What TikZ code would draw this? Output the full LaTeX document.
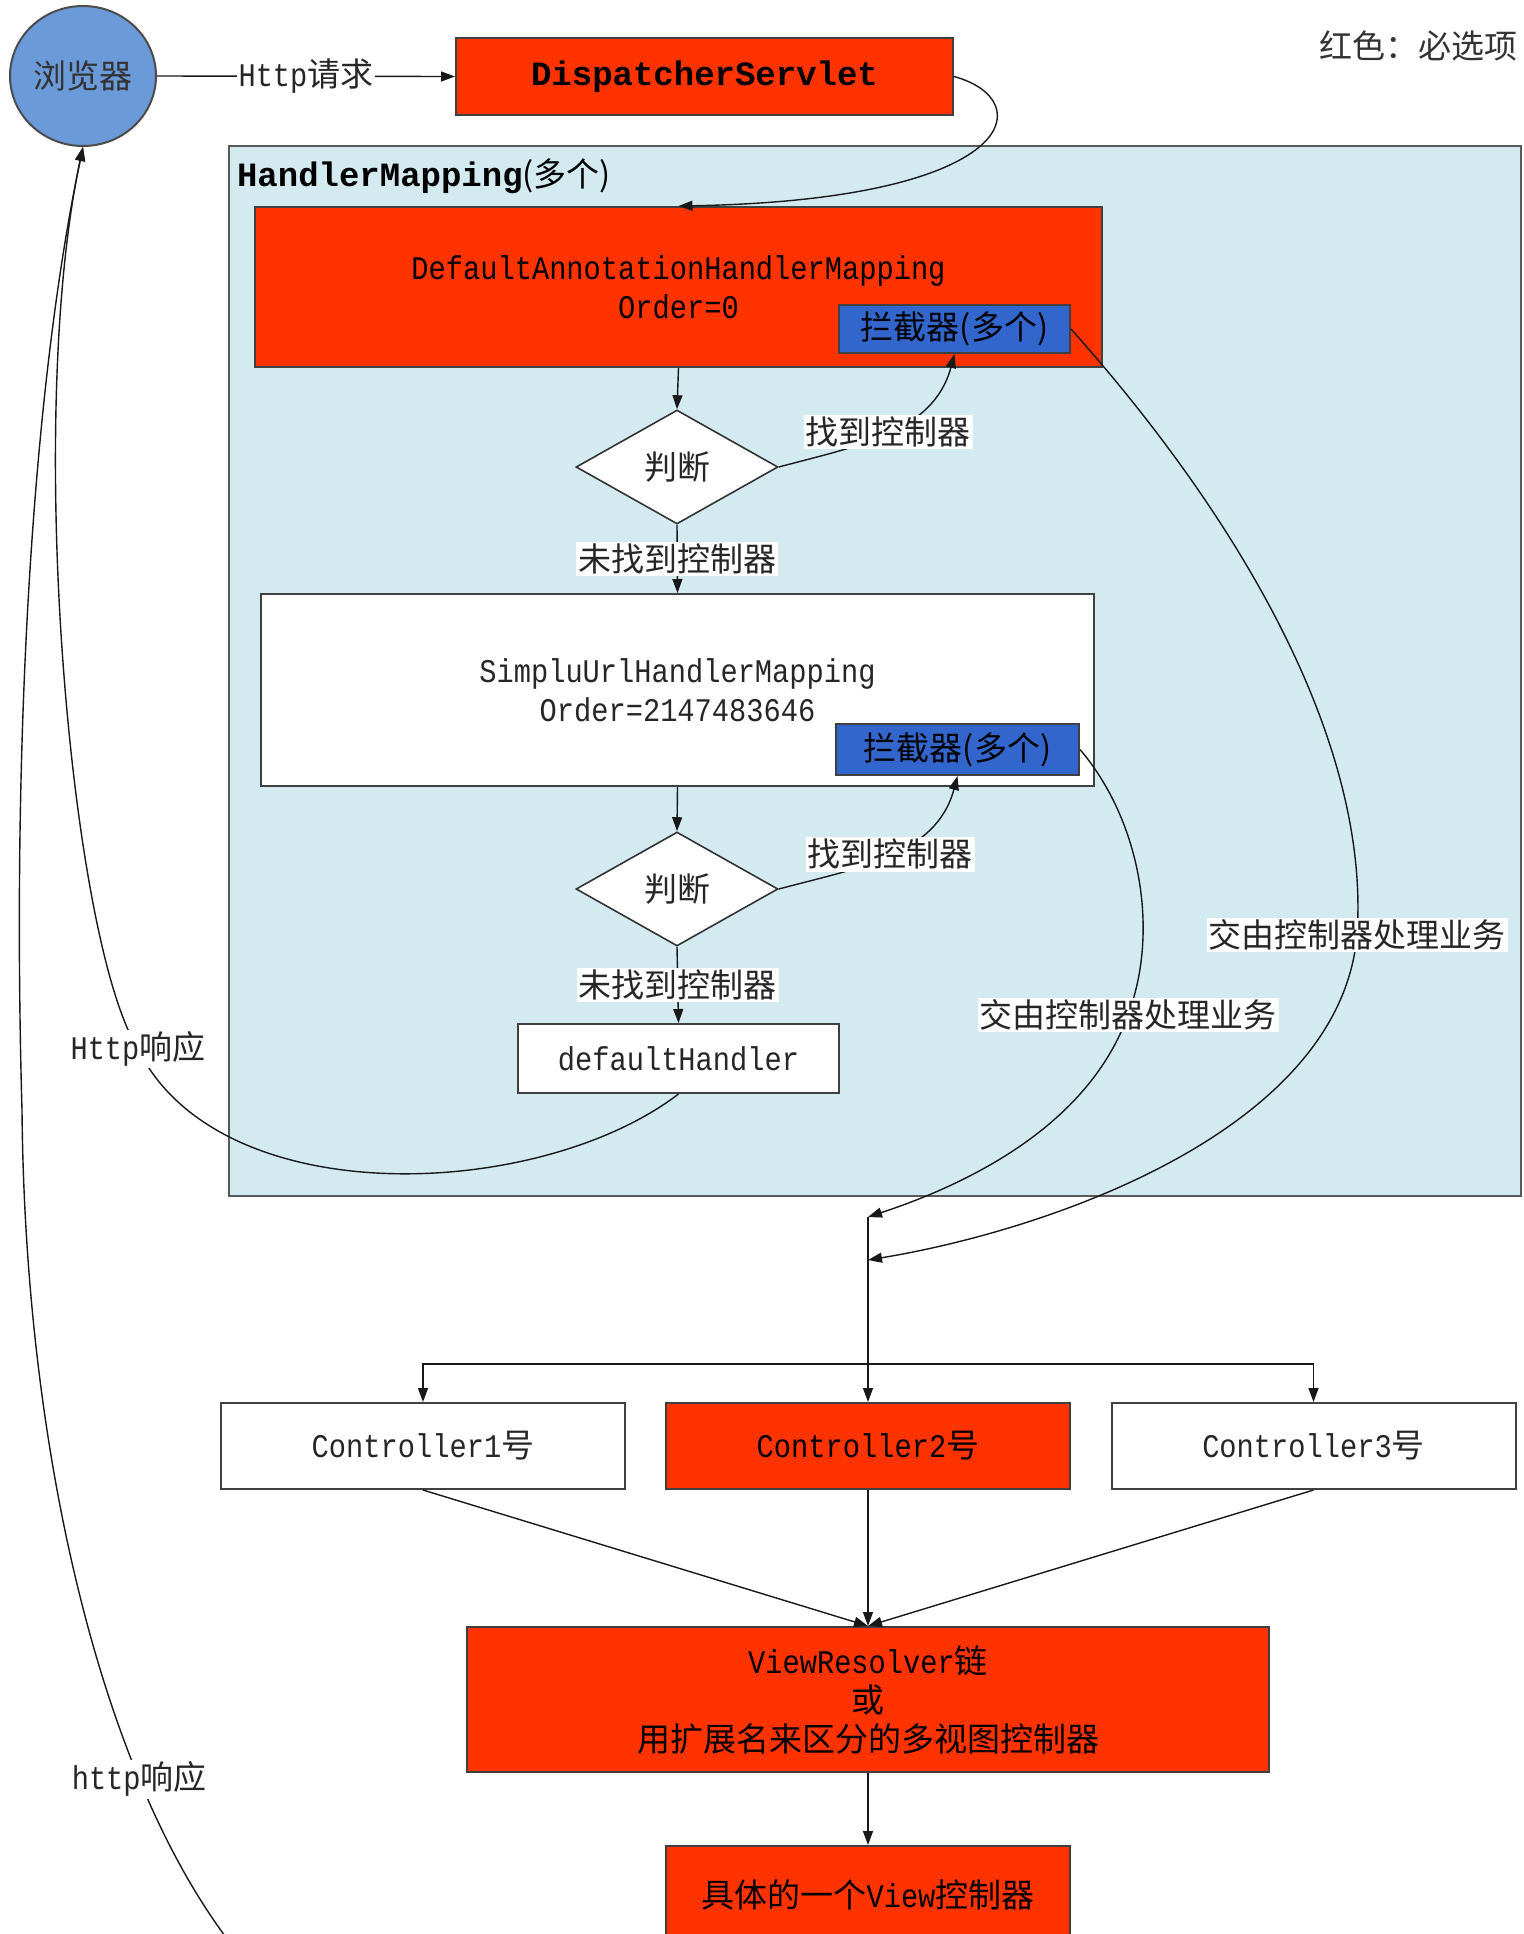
\documentclass[tikz,border=0pt]{standalone}
\usepackage{fontspec}
\setmainfont{Noto Sans CJK SC}
\newfontfamily\lat[FakeStretch=0.87]{Liberation Mono}
\newfontfamily\code{Liberation Mono}
\usetikzlibrary{arrows.meta,shapes.geometric}

\definecolor{sred}{HTML}{FF3300}
\definecolor{sblue}{HTML}{3366CC}
\definecolor{brblue}{HTML}{6A9AD8}
\definecolor{hmback}{HTML}{D2EAF0}
\newcommand\fs{\fontsize{16.5}{19.5}\selectfont}

\begin{document}
\begin{tikzpicture}[x=0.5pt, y=-0.5pt,
    box/.style={draw=black!75, line width=1pt, inner sep=0pt, font=\fs, text=black!85, align=center},
    redbox/.style={box, fill=sred, text=black},
    wbox/.style={box, fill=white},
    ibox/.style={box, fill=sblue, text=black},
    decide/.style={diamond, draw=black!80, line width=0.8pt, fill=white, inner sep=0pt,
      minimum width=101pt, minimum height=57pt, font=\fs, text=black!85},
    lbl/.style={fill=white, inner sep=1pt, font=\fs, text=black!85},
    arr/.style={-{Triangle[length=7pt,width=5pt]}, line width=0.7pt, black!90},
    line/.style={line width=0.7pt, black!90}]
  \useasboundingbox (0,0) rectangle (1523,1934);

  \node[draw=black!65, line width=1pt, fill=hmback, minimum width=646pt, minimum height=525pt] (hm) at (875,671) {};
  \node[anchor=west, font=\fs] (hmtitle) at (230,176) {{\code\bfseries\fontsize{17}{19.5}\selectfont HandlerMapping}(多个)};

  \node[ellipse, draw=black!70, line width=1pt, fill=brblue, minimum width=73pt, minimum height=70pt,
    inner sep=0pt, font=\fs, text=black!80] (br) at (83,76) {浏览器};
  \node[redbox, minimum width=248.5pt, minimum height=38.5pt, font=\code\bfseries\fontsize{17}{19.5}\selectfont]
    (disp) at (704.5,76.5) {DispatcherServlet};

  \node[redbox, minimum width=423.5pt, minimum height=80pt] (dahm) at (678.5,287)
    {\lat DefaultAnnotationHandlerMapping\\[0pt]\lat Order=0};
  \node[ibox, minimum width=115.5pt, minimum height=24pt] (int1) at (954.5,329) {拦截器(多个)};
  \node[decide] (d1) at (677,467) {判断};

  \node[wbox, minimum width=416.5pt, minimum height=96pt] (sum) at (677.5,690)
    {\lat SimpluUrlHandlerMapping\\[0pt]\lat Order=2147483646};
  \node[ibox, minimum width=121.5pt, minimum height=25.5pt] (int2) at (957.5,749.5) {拦截器(多个)};
  \node[decide] (d2) at (677,889) {判断};
  \node[wbox, minimum width=160.5pt, minimum height=34.5pt] (dh) at (678.5,1058.5) {\lat defaultHandler};

  \node[wbox, minimum width=202pt, minimum height=43pt] (c1) at (423,1446) {{\lat Controller1}号};
  \node[redbox, minimum width=202pt, minimum height=43pt] (c2) at (868,1446) {{\lat Controller2}号};
  \node[wbox, minimum width=202pt, minimum height=43pt] (c3) at (1313.5,1446) {{\lat Controller3}号};

  \node[redbox, minimum width=401pt, minimum height=72.5pt] (vr) at (868,1699.5)
    {{\lat ViewResolver}链\\或\\用扩展名来区分的多视图控制器};
  \node[redbox, minimum width=202pt, minimum height=49pt] (view) at (868,1895)
    {具体的一个{\lat View}控制器};

  \node[font=\fs, text=black!80] (legend) at (1418,46) {红色：必选项};

  \coordinate (in1) at (868,1217);
  \coordinate (in2) at (868,1260);
  \coordinate (fork) at (868,1364);
  \coordinate (out) at (228,1940);

  \draw[arr] (br.east) -- node[lbl] {{\lat Http}请求} (disp.west);
  \draw[arr] (disp.east) .. controls (1040,100) and (1020,200) .. (dahm.north);

  \draw[arr] (dahm.south) -- (d1.north);
  \draw[arr] (d1.east) to[out=15, in=-105] node[lbl] {找到控制器} (int1.south);
  \draw[arr] (d1.south) -- node[lbl] {未找到控制器} (sum.north);

  \draw[arr] (sum.south) -- (d2.north);
  \draw[arr] (d2.east) to[out=15, in=-105] node[lbl] {找到控制器} (int2.south);
  \draw[arr] (d2.south) -- node[lbl] {未找到控制器} (dh.north);

  \draw[arr] (int1.east) .. controls (1250,530) and (1370,750) .. (1357,935) node[lbl] {交由控制器处理业务}
    .. controls (1340,1130) and (1050,1230) .. (in2);
  \draw[arr] (int2.east) .. controls (1140,820) and (1160,930) .. (1128,1015) node[lbl] {交由控制器处理业务}
    .. controls (1090,1120) and (980,1180) .. (in1);

  \draw[arr] (in1) -- (c2.north);
  \draw[arr] (fork) -| (c1.north);
  \draw[arr] (fork) -| (c3.north);

  \draw[arr] (c1.south) -- (vr.north);
  \draw[arr] (c2.south) -- (vr.north);
  \draw[arr] (c3.south) -- (vr.north);
  \draw[arr] (vr.south) -- (view.north);

  \draw[arr] (dh.south) .. controls (540,1200) and (220,1215) .. (138,1049) node[lbl] {{\lat Http}响应}
    .. controls (70,940) and (25,420) .. (br.south);
  \draw[arr] (out) .. controls (100,1770) and (25,1450) .. node[lbl, pos=0.26] {{\lat http}响应} (22,1110)
    .. controls (12,760) and (30,400) .. (br.south);
\end{tikzpicture}
\end{document}
